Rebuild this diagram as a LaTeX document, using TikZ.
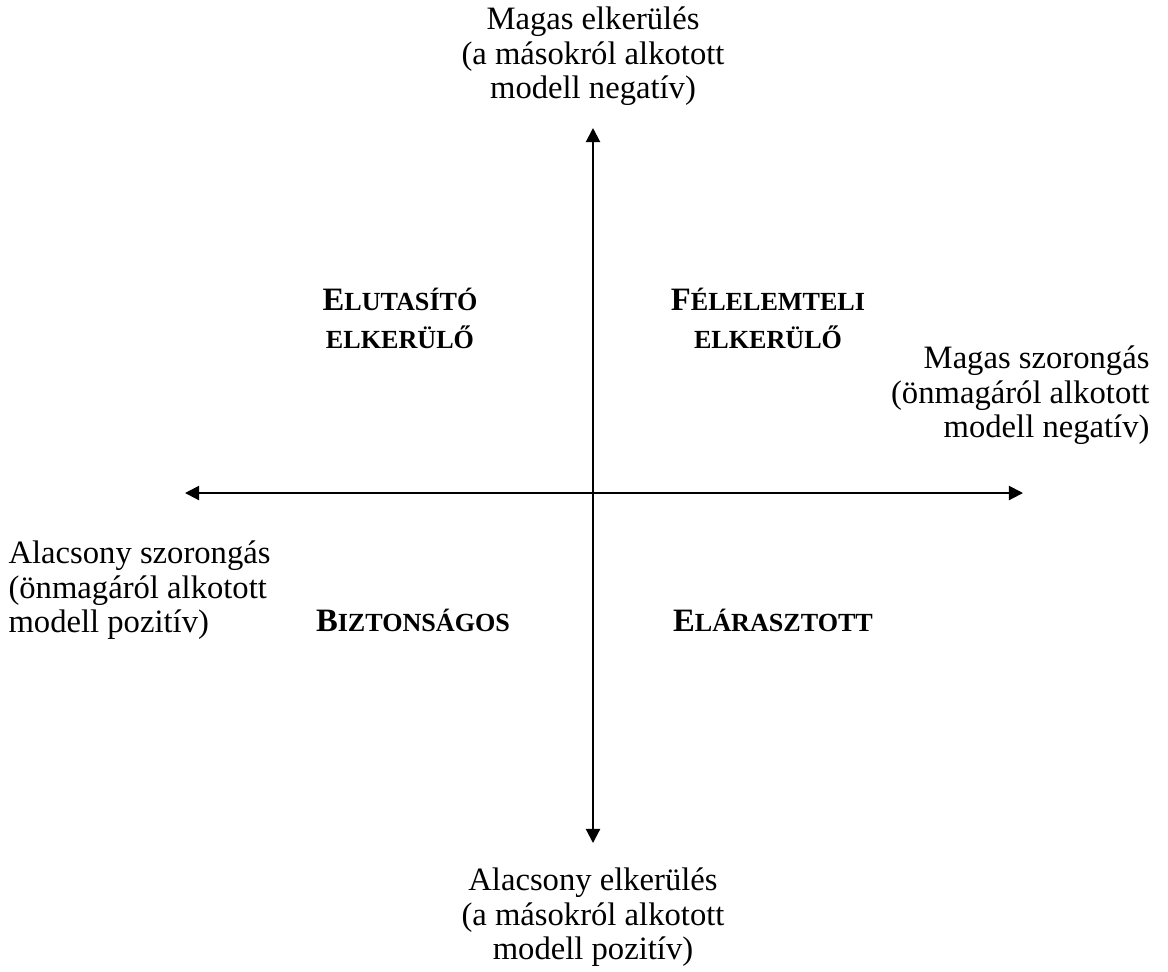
\documentclass[tikz,border=0pt]{standalone}
\usepackage{fontspec}
\setmainfont{Liberation Serif}
\usetikzlibrary{arrows.meta}
% faked small capitals: smaller upper-case letters
\newcommand{\smc}[1]{{\fontsize{9.6pt}{11pt}\selectfont #1}}
\tikzset{
  axis/.style={line width=0.75pt, {Triangle[length=5.2pt,width=5.2pt]}-{Triangle[length=5.2pt,width=5.2pt]}},
  axislabel/.style={inner sep=0pt, font=\fontsize{12pt}{12.8pt}\selectfont},
  quadlabel/.style={inner sep=0pt, align=center, font=\fontsize{12pt}{14pt}\selectfont\bfseries},
}
\begin{document}
\begin{tikzpicture}[x=0.3676pt,y=-0.3676pt]
  \useasboundingbox (0,0) rectangle (1168,971);
  % axis ends
  \coordinate (top) at (593,128);
  \coordinate (bottom) at (593,843);
  \coordinate (left) at (185,493);
  \coordinate (right) at (1023,493);
  \draw[axis] (bottom) -- (top);
  \draw[axis] (left) -- (right);
  % axis labels
  \node[axislabel, align=center, anchor=north] (topl) at (593,6)
    {Magas elkerülés\\(a másokról alkotott\\modell negatív)};
  \node[axislabel, align=center, anchor=north] (botl) at (593,867)
    {Alacsony elkerülés\\(a másokról alkotott\\modell pozitív)};
  \node[axislabel, align=right, anchor=north east] (rightl) at (1150,345)
    {Magas szorongás\\(önmagáról alkotott\\modell negatív)};
  \node[axislabel, align=left, anchor=north west] (leftl) at (8,540)
    {Alacsony szorongás\\(önmagáról alkotott\\modell pozitív)};
  % quadrant names
  \node[quadlabel] (q1) at (400,318) {E\smc{LUTASÍTÓ}\\\smc{ELKERÜLŐ}};
  \node[quadlabel] (q2) at (768,318) {F\smc{ÉLELEMTELI}\\\smc{ELKERÜLŐ}};
  \node[quadlabel] (q3) at (413,620) {B\smc{IZTONSÁGOS}};
  \node[quadlabel] (q4) at (773,620) {E\smc{LÁRASZTOTT}};
\end{tikzpicture}
\end{document}
